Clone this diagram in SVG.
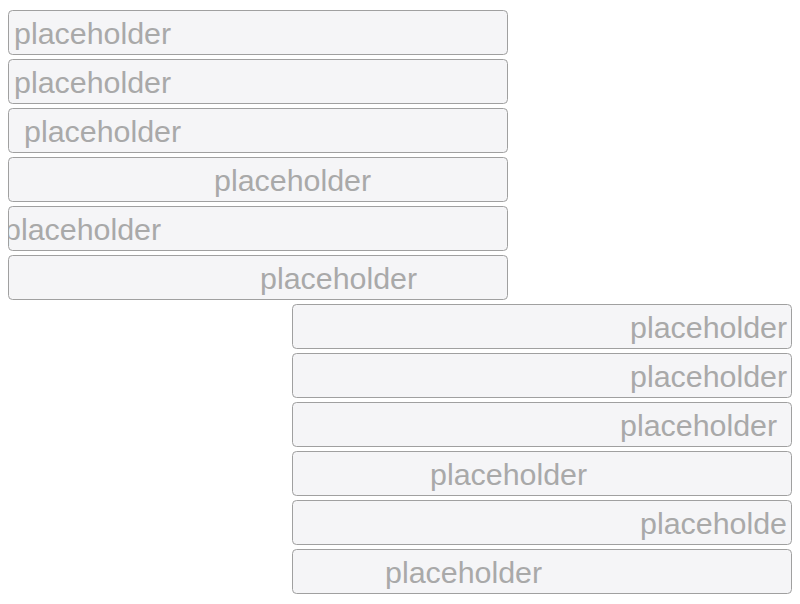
<svg xmlns="http://www.w3.org/2000/svg" width="800" height="604" viewBox="0 0 800 604">
<style>
.box{fill:#f5f5f7;stroke:#a0a0a0;stroke-width:1}
.ph{font-family:"Liberation Sans",Arial,sans-serif;font-size:30.4px;fill:#a9a9a9}
</style>
<defs>
<clipPath id="c5"><rect x="9" y="207" width="498" height="43"/></clipPath>
<clipPath id="c11"><rect x="293" y="501" width="495" height="43"/></clipPath>
</defs>
<rect width="800" height="604" fill="#ffffff"/>
<g id="input1"><rect class="box" x="8.5" y="10.5" width="499" height="44" rx="4"/><text class="ph" x="14" y="44">placeholder</text></g>
<g id="input2"><rect class="box" x="8.5" y="59.5" width="499" height="44" rx="4"/><text class="ph" x="14" y="93">placeholder</text></g>
<g id="input3"><rect class="box" x="8.5" y="108.5" width="499" height="44" rx="4"/><text class="ph" x="24" y="142">placeholder</text></g>
<g id="input4"><rect class="box" x="8.5" y="157.5" width="499" height="44" rx="4"/><text class="ph" x="214" y="191">placeholder</text></g>
<g id="input5"><rect class="box" x="8.5" y="206.5" width="499" height="44" rx="4"/><text class="ph" x="4" y="240" clip-path="url(#c5)">placeholder</text></g>
<g id="input6"><rect class="box" x="8.5" y="255.5" width="499" height="44" rx="4"/><text class="ph" x="260" y="289">placeholder</text></g>
<g id="input7"><rect class="box" x="292.5" y="304.5" width="499" height="44" rx="4"/><text class="ph" x="630" y="338">placeholder</text></g>
<g id="input8"><rect class="box" x="292.5" y="353.5" width="499" height="44" rx="4"/><text class="ph" x="630" y="387">placeholder</text></g>
<g id="input9"><rect class="box" x="292.5" y="402.5" width="499" height="44" rx="4"/><text class="ph" x="620" y="436">placeholder</text></g>
<g id="input10"><rect class="box" x="292.5" y="451.5" width="499" height="44" rx="4"/><text class="ph" x="430" y="485">placeholder</text></g>
<g id="input11"><rect class="box" x="292.5" y="500.5" width="499" height="44" rx="4"/><text class="ph" x="640" y="534" clip-path="url(#c11)">placeholder</text></g>
<g id="input12"><rect class="box" x="292.5" y="549.5" width="499" height="44" rx="4"/><text class="ph" x="385" y="583">placeholder</text></g>
<g id="connectors"/>
</svg>
